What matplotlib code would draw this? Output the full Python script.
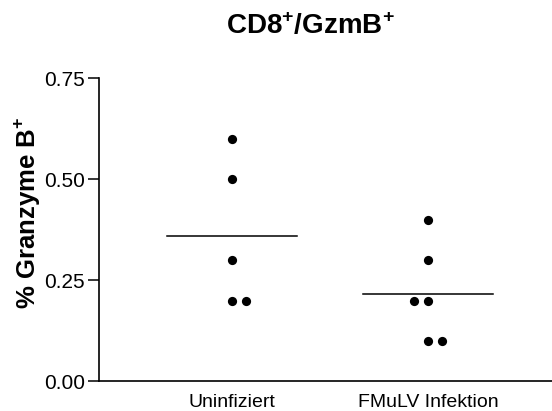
import numpy as np
import matplotlib
matplotlib.use("Agg")
import matplotlib.pyplot as plt

plt.rcParams["font.family"] = ["Liberation Sans", "DejaVu Sans"]
plt.rcParams["mathtext.fontset"] = "custom"
plt.rcParams["mathtext.rm"] = "Liberation Sans"
plt.rcParams["mathtext.bf"] = "Liberation Sans:bold"

#-----------------------------------------------------------------------------
# Daten

groups = ["Uninfiziert", "FMuLV Infektion"]
uninfiziert = [0.6, 0.5, 0.3, 0.2, 0.2]
fmulv = [0.4, 0.3, 0.2, 0.2, 0.1, 0.1]
yticks = [0.00, 0.25, 0.50, 0.75]

# seitliche Verschiebung doppelter Werte (in Punktbreiten)
shift_uninf = [0, 0, 0, 0, 1]
shift_fmulv = [0, 0, -1, 0, 0, 1]

#-----------------------------------------------------------------------------

fig = plt.figure(figsize=(5.52, 4.11), dpi=100)
ax = fig.add_axes([0.179, 0.0718, 0.821, 0.738])

dx = 0.0714      # Abstand zwischen nebeneinander liegenden Punkten
half_w = 0.332   # halbe Breite der Mittelwertlinie

for i, (vals, sh) in enumerate([(uninfiziert, shift_uninf), (fmulv, shift_fmulv)]):
    xs = i + np.array(sh) * dx
    ax.scatter(xs, vals, s=44, color="black", zorder=3, linewidths=0)
    m = np.mean(vals)
    ax.plot([i - half_w, i + half_w], [m, m], color="black", lw=1.1)

ax.set_xlim(-0.679, 1.633)
ax.set_ylim(0, 0.75)
ax.set_xticks([0, 1])
ax.set_xticklabels(groups, fontsize=14)
ax.set_yticks(yticks)
ax.set_yticklabels(["%.2f" % t for t in yticks], fontsize=15)
ax.tick_params(axis="x", length=0, pad=9)
ax.tick_params(axis="y", length=8, width=1.1, pad=2)

for side in ["top", "right"]:
    ax.spines[side].set_visible(False)
for side in ["left", "bottom"]:
    ax.spines[side].set_linewidth(1.2)

ax.set_ylabel(r"% Granzyme B$^{\mathbf{+}}$", fontsize=18.5, fontweight="bold")
ax.yaxis.set_label_coords(-0.125, 0.555)

fig.text(0.563, 0.937, r"CD8$^{\mathbf{+}}$/GzmB$^{\mathbf{+}}$",
         fontsize=20, fontweight="bold", ha="center", va="center")

fig.savefig("out.png", dpi=100)
